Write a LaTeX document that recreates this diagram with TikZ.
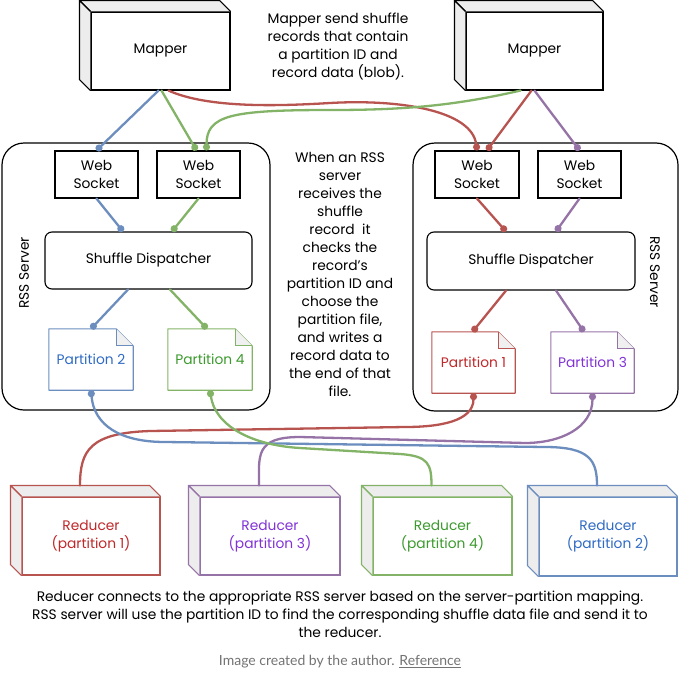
\documentclass[tikz,border=0pt]{standalone}
\usepackage{fontspec}
\setmainfont{Poppins}
\setsansfont{Lato}
\usetikzlibrary{arrows.meta,calc,positioning}

\definecolor{wireblue}{HTML}{6C8EBF}
\definecolor{wiregreen}{HTML}{82B366}
\definecolor{wirered}{HTML}{B85450}
\definecolor{wirepurple}{HTML}{9673A6}
\definecolor{txtblue}{HTML}{2F6BC4}
\definecolor{txtgreen}{HTML}{3C9A2E}
\definecolor{txtred}{HTML}{C0282A}
\definecolor{txtpurple}{HTML}{8133D6}

\begin{document}
\begin{tikzpicture}[x=1pt,y=-1pt]
\tikzset{every node/.style={font=\fontsize{13.8}{18}\selectfont}}
\tikzset{box/.style={draw, line width=1.1pt, fill=white, inner sep=0pt, align=center}}
\tikzset{server/.style={draw, line width=1.2pt, rounded corners=22pt, inner sep=0pt}}
\tikzset{file/.style={inner sep=0pt, minimum width=84pt, minimum height=61pt}}
\tikzset{wire/.style={line width=2.3pt, line cap=round}}
\tikzset{dot end/.style={-{Circle[length=7pt]}}, dot start/.style={{Circle[length=7pt]}-}}
\useasboundingbox (0,0) rectangle (680,672);

% servers
\node[server, minimum width=268pt, minimum height=267pt] (srvL) at (136,276.5) {};
\node[server, minimum width=265pt, minimum height=268pt] (srvR) at (545.5,277) {};
\node[rotate=90] (srvLlabel) at (24,273) {RSS Server};
\node[rotate=-90] (srvRlabel) at (655,272) {RSS Server};

% mappers and reducers (front faces)
\node[box, minimum width=139pt, minimum height=78pt] (mapL) at (160.5,51) {Mapper};
\node[box, minimum width=137pt, minimum height=78pt] (mapR) at (534.5,51) {Mapper};
\node[box, draw=wirered, text=txtred, minimum width=138pt, minimum height=78pt] (redA) at (91,536) {Reducer\\(partition 1)};
\node[box, draw=wirepurple, text=txtpurple, minimum width=140pt, minimum height=78pt] (redC) at (270,536) {Reducer\\(partition 3)};
\node[box, draw=wiregreen, text=txtgreen, minimum width=139pt, minimum height=78pt] (redD) at (442.5,536) {Reducer\\(partition 4)};
\node[box, draw=wireblue, text=txtblue, minimum width=138pt, minimum height=79pt] (redB) at (608,536.5) {Reducer\\(partition 2)};

\foreach \b/\c in {mapL/black,mapR/black,redA/wirered,redC/wirepurple,redD/wiregreen,redB/wireblue}{
  \draw[\c, line width=1.1pt, fill=black!7, line join=round] (\b.north west) -- ([shift={(-11,-11)}]\b.north west) -- ([shift={(-11,-11)}]\b.north east) -- (\b.north east);
  \draw[\c, line width=1.1pt, fill=black!7, line join=round] (\b.north west) -- ([shift={(-11,-11)}]\b.north west) -- ([shift={(-11,-11)}]\b.south west) -- (\b.south west);
  \coordinate (\b-top) at ([shift={(-11,-11)}]\b.north);
}

% web sockets and dispatchers
\node[box, minimum width=83pt, minimum height=47pt] (wsA) at (96.5,174.5) {Web\\Socket};
\node[box, minimum width=83pt, minimum height=47pt] (wsB) at (198.5,174.5) {Web\\Socket};
\node[box, minimum width=84pt, minimum height=47pt] (wsC) at (477,174.5) {Web\\Socket};
\node[box, minimum width=83pt, minimum height=47pt] (wsD) at (579.5,174.5) {Web\\Socket};
\node[box, rounded corners=7pt, minimum width=207pt, minimum height=57pt] (dispL) at (148.5,260.5) {Shuffle Dispatcher};
\node[box, rounded corners=7pt, minimum width=208pt, minimum height=58pt] (dispR) at (531,261) {Shuffle Dispatcher};

% partition files
\node[file, text=txtblue] (partB) at (91,359.5) {Partition 2};
\node[file, text=txtgreen] (partD) at (210,359.5) {Partition 4};
\node[file, text=txtred, minimum width=83pt] (partA) at (473.5,362.5) {Partition 1};
\node[file, text=txtpurple, minimum width=83pt] (partC) at (592.5,362.5) {Partition 3};
\foreach \p/\c in {partB/wireblue,partD/wiregreen,partA/wirered,partC/wirepurple}{
  \draw[\c, line width=1.1pt, line join=round] (\p.north west) -- ([xshift=-17pt]\p.north east) -- ([yshift=-17pt]\p.north east) -- (\p.south east) -- (\p.south west) -- cycle;
  \draw[\c, line width=0.8pt, fill=black!6] ([xshift=-17pt]\p.north east) -- ([xshift=-17pt,yshift=-17pt]\p.north east) -- ([yshift=-17pt]\p.north east);
}

% texts
\node[align=center] (noteMap) at (338,47) {Mapper send shuffle\\records that contain\\a partition ID and\\record data (blob).};
\node[align=center, fill=white, inner sep=1pt] (noteSrv) at (340,274) {When an RSS\\server\\receives the\\shuffle\\record~ it\\checks the\\record's\\partition ID and\\choose the\\partition file,\\and writes a\\record data to\\the end of that\\file.};
\node[align=center] (noteRed) at (340,614) {Reducer connects to the appropriate RSS server based on the server-partition mapping.\\RSS server will use the partition ID to find the corresponding shuffle data file and send it to\\the reducer.};
\node[font=\sffamily\fontsize{14}{16}\selectfont, text=black!55] (credit) at (340,662) {Image created by the author. \underline{Reference}};

% mapper -> web socket
\draw[wire, wireblue, dot end] ([xshift=-2pt]mapL.south) -- (wsA.north);
\draw[wire, wiregreen, dot end] ([xshift=1pt]mapL.south) -- ([xshift=-2pt]wsB.north);
\draw[wire, wirered, dot end] ([xshift=8pt]mapL.south) .. controls +(40,18) and +(-50,3) .. (330,103) .. controls +(70,-4) and +(-5,-40) .. (wsC.north);
\draw[wire, wiregreen, dot end] ([xshift=-14pt]mapR.south) .. controls +(-70,16) and +(70,0) .. (330,110) .. controls +(-100,0) and +(0,-35) .. ([xshift=8pt]wsB.north);
\draw[wire, wirered, dot end] ([xshift=-3pt]mapR.south) -- ([xshift=10pt]wsC.north);
\draw[wire, wirepurple, dot end] (mapR.south) -- (wsD.north);

% inside the servers
\draw[wire, wireblue, dot end] (wsA.south) -- ([xshift=-25.5pt]dispL.north);
\draw[wire, wiregreen, dot end] (wsB.south) -- ([xshift=23.5pt]dispL.north);
\draw[wire, wireblue, dot end] ([xshift=-20.5pt]dispL.south) -- (partB.north);
\draw[wire, wiregreen, dot end] ([xshift=21.5pt]dispL.south) -- ([xshift=-3pt]partD.north);
\draw[wire, wirered, dot end] (wsC.south) -- ([xshift=-25pt]dispR.north);
\draw[wire, wirepurple, dot end] (wsD.south) -- ([xshift=25pt]dispR.north);
\draw[wire, wirered, dot end] ([xshift=-25pt]dispR.south) -- ([xshift=-1pt]partA.north);
\draw[wire, wirepurple, dot end] ([xshift=25pt]dispR.south) -- ([xshift=-8.5pt]partC.north);

% partition -> reducer
\draw[wire, wirered, dot start] (partA.south) .. controls +(0,28) and +(35,0) .. (405,427) -- (150,431) .. controls +(-60,2) and +(0,-35) .. (redA-top);
\draw[wire, wirepurple, dot start] (partC.south) .. controls +(0,35) and +(35,0) .. (525,443) -- (300,437) .. controls +(-45,0) and +(0,-30) .. (redC-top);
\draw[wire, wireblue, dot start] (partB.south) .. controls +(3,35) and +(-45,0) .. (165,442) -- (545,447) .. controls +(45,0) and +(0,-25) .. (redB-top);
\draw[wire, wiregreen, dot start] (partD.south) .. controls +(5,35) and +(-50,-3) .. (300,448) -- (400,454) .. controls +(28,2) and +(0,-22) .. (redD-top);
\end{tikzpicture}
\end{document}
